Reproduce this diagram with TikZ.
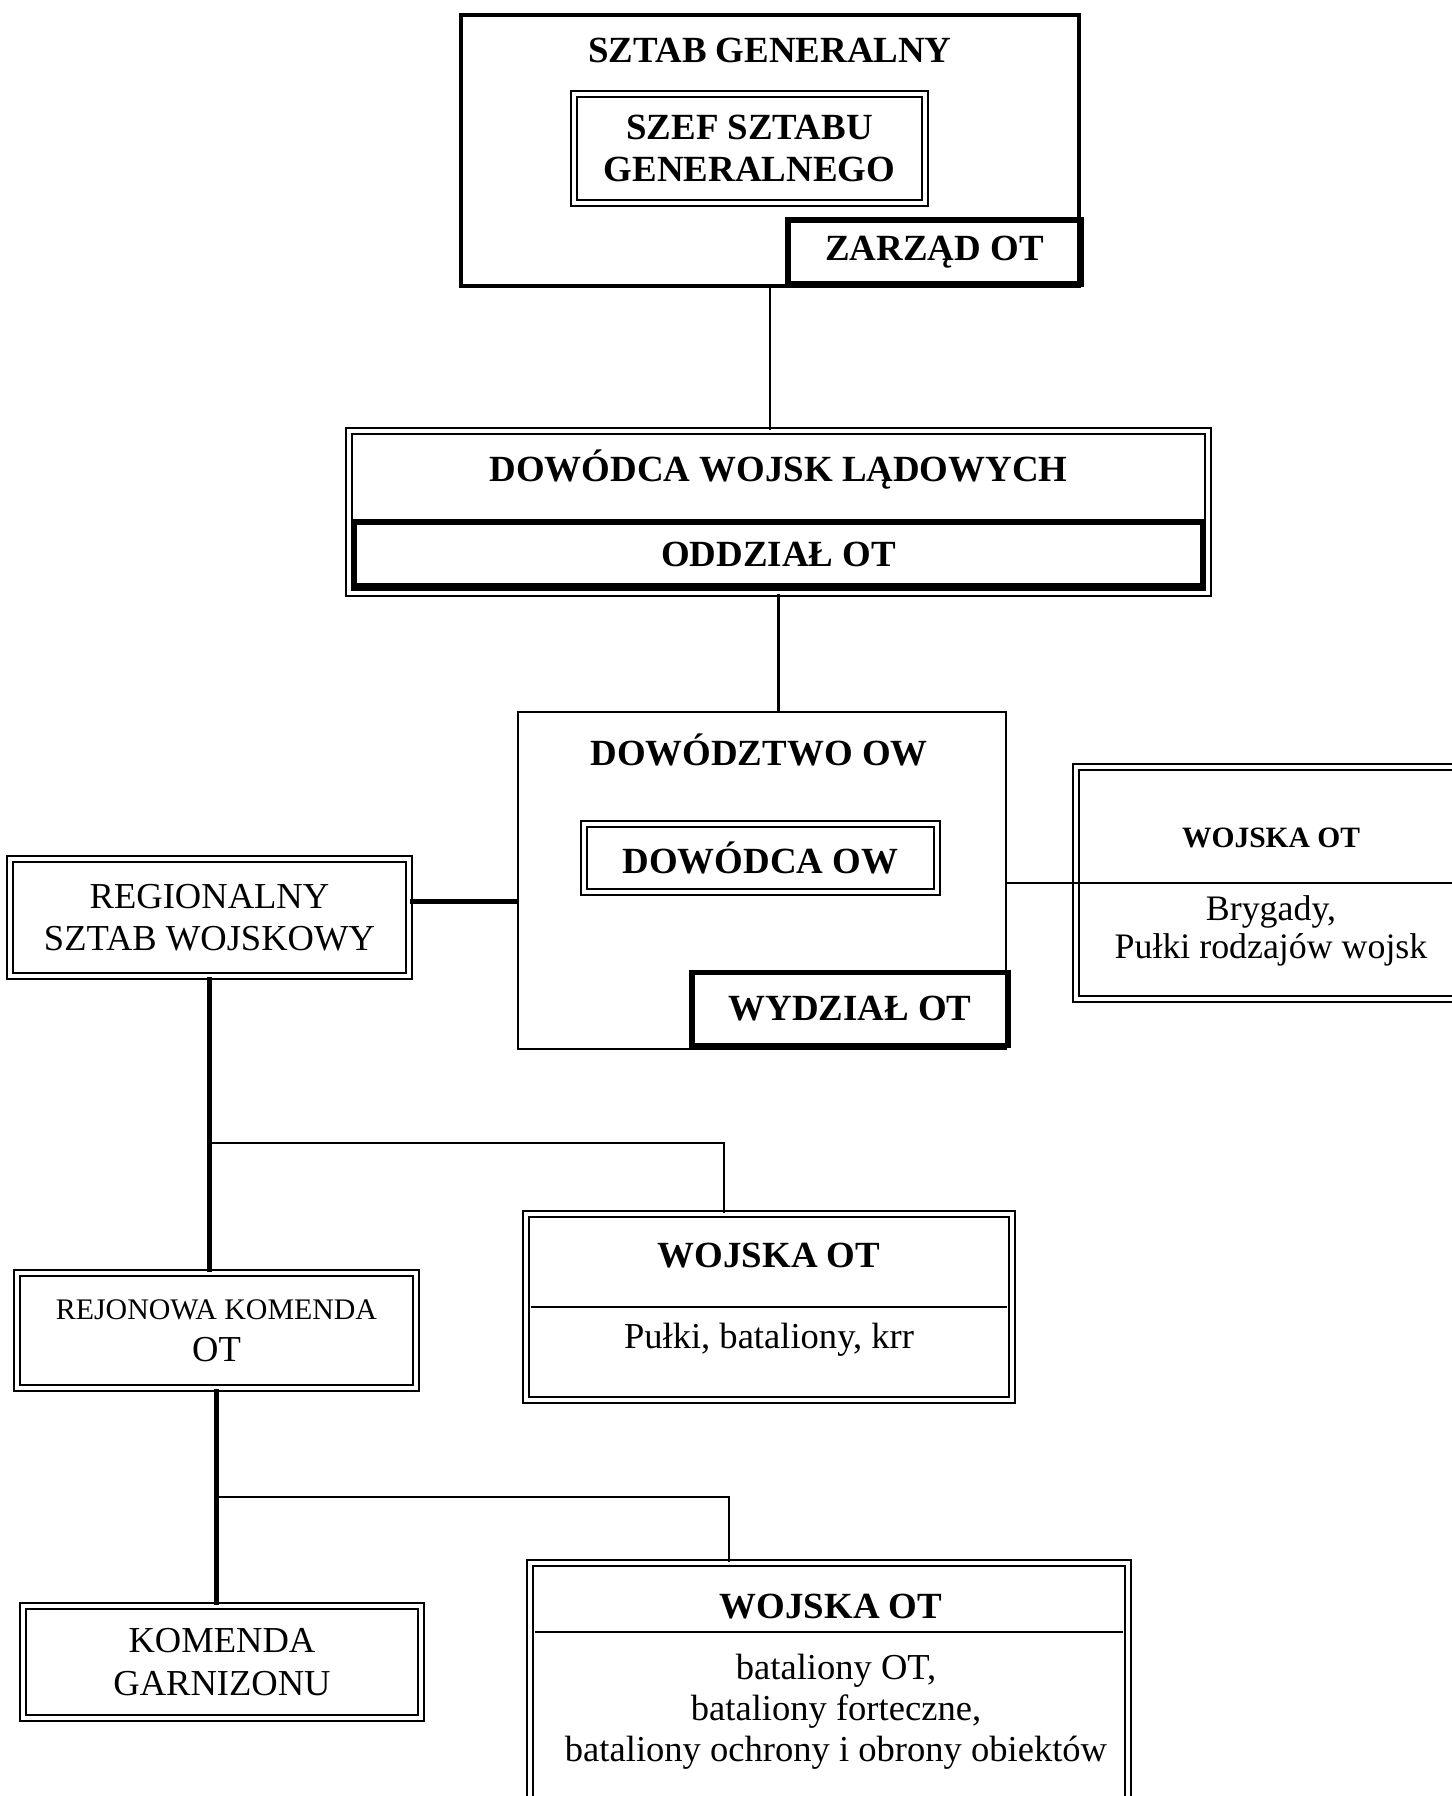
\documentclass[tikz,border=0pt]{standalone}
\usepackage{fontspec}
\setmainfont{Liberation Serif}

\begin{document}
\begin{tikzpicture}[
		box/.style={draw,line width=0.5pt,inner sep=0pt},
		bigbox/.style={draw,line width=0.9pt,inner sep=0pt},
		dbox/.style={draw,double,line width=0.5pt,double distance=1.2pt,inner sep=0pt},
		tbox/.style={draw,line width=1.7pt,inner sep=0pt},
		hd/.style={font=\fontsize{10.5}{12}\selectfont\bfseries,align=center},
		tx/.style={font=\fontsize{10.4}{12}\selectfont,align=center},
		link/.style={line width=0.6pt},
		blink/.style={line width=1.3pt}]
			\useasboundingbox (0,0) rectangle (14.51,-17.96);
			\node[bigbox,minimum width=6.18cm,minimum height=2.71cm] (SG)at(7.70,-1.505) {};
			\node[hd] (SGt)at(7.70,-0.50) {SZTAB GENERALNY};
			\node[dbox,hd,minimum width=3.51cm,minimum height=1.09cm] (SSG)at(7.495,-1.485) {SZEF SZTABU\\GENERALNEGO};
			\node[tbox,hd,minimum width=2.93cm,minimum height=0.64cm] (ZOT)at(9.345,-2.52) {ZARZĄD OT};
			\node[dbox,minimum width=8.59cm,minimum height=1.62cm] (DWL)at(7.785,-5.12) {};
			\node[hd] (DWLt)at(7.785,-4.70) {DOWÓDCA WOJSK LĄDOWYCH};
			\node[tbox,hd,minimum width=8.49cm,minimum height=0.64cm] (OOT)at(7.785,-5.54) {ODDZIAŁ OT};
			\node[box,minimum width=4.88cm,minimum height=3.37cm] (DOW)at(7.62,-8.805) {};
			\node[hd] (DOWt)at(7.59,-7.50) {DOWÓDZTWO OW};
			\node[dbox,hd,minimum width=3.53cm,minimum height=0.68cm] (DCA)at(7.605,-8.58) {DOWÓDCA OW};
			\node[tbox,hd,minimum width=3.16cm,minimum height=0.73cm] (WYD)at(8.50,-10.09) {WYDZIAŁ OT};
			\node[dbox,minimum width=4.04cm,minimum height=2.32cm] (WR)at(12.78,-8.83) {};
			\node[hd,font=\fontsize{8.4}{10}\selectfont\bfseries] (WRt)at(12.71,-8.38) {WOJSKA OT};
			\node[tx,font=\fontsize{10.2}{10.8}\selectfont] (WRb)at(12.71,-9.31) {Brygady,\\Pułki rodzajów wojsk};
			\node[dbox,tx,minimum width=3.99cm,minimum height=1.17cm] (RSW)at(2.095,-9.175) {REGIONALNY\\SZTAB WOJSKOWY};
			\node[dbox,minimum width=4.86cm,minimum height=1.86cm] (WM)at(7.69,-13.07) {};
			\node[hd] (WMt)at(7.69,-12.56) {WOJSKA OT};
			\node[tx] (WMb)at(7.69,-13.40) {Pułki, bataliony, krr};
			\node[dbox,tx,minimum width=3.99cm,minimum height=1.15cm] (RKO)at(2.165,-13.305) {{\fontsize{8.5}{10}\selectfont REJONOWA KOMENDA}\\OT};
			\node[dbox,tx,minimum width=3.98cm,minimum height=1.12cm] (KG)at(2.22,-16.62) {KOMENDA\\GARNIZONU};
			\node[dbox,minimum width=5.98cm,minimum height=2.37cm] (WB)at(8.29,-16.815) {};
			\node[hd] (WBt)at(8.31,-16.07) {WOJSKA OT};
			\node[tx,font=\fontsize{10.4}{11.6}\selectfont] (WBb)at(8.36,-17.12) {bataliony OT,\\bataliony forteczne,\\bataliony ochrony i obrony obiektów};
			\coordinate (B1) at (2.095,-11.43);
			\coordinate (B2) at (2.165,-14.97);
			\draw[link] (SG.south) -- (SG.south |- DWL.north);
			\draw[link] (DWL.south) -- (DWL.south |- DOW.north);
			\draw[link] (DOW.east |- WR.west) -- ([xshift=-0.6mm]WR.east);
			\draw[blink] ([yshift=1.6mm]RSW.east) -- ([yshift=1.6mm]RSW.east -| DOW.west);
			\draw[blink] (RSW.south) -- (RSW.south |- RKO.north);
			\draw[link] (B1) -| ([xshift=-4.5mm]WM.north);
			\draw[line width=0.5pt] ([xshift=0.6mm]WM.west) -- ([xshift=-0.6mm]WM.east);
			\draw[blink] (RKO.south) -- (RKO.south |- KG.north);
			\draw[link] (B2) -| ([xshift=-10mm]WB.north);
			\draw[line width=0.5pt] ([xshift=0.6mm]WB.west |- 0,-16.32) -- ([xshift=-0.6mm]WB.east |- 0,-16.32);
		\end{tikzpicture}
\end{document}
